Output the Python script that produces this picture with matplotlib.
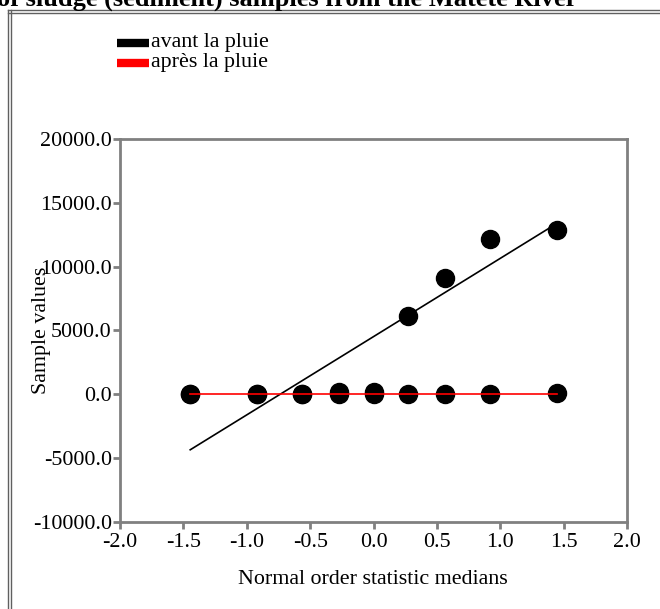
import numpy as np
import matplotlib
matplotlib.use("Agg")
import matplotlib.pyplot as plt
from matplotlib.lines import Line2D
from matplotlib.ticker import FormatStrFormatter

plt.rcParams['font.family'] = ['Liberation Serif', 'DejaVu Serif']

# normal order statistic medians for n = 9
x_medians = [-1.446, -0.917, -0.564, -0.271, 0.0, 0.271, 0.564, 0.917, 1.446]

# sample values (sorted)
avant = [0, 0, 0, 150, 150, 6130, 9150, 12150, 12900]
apres = [10, 15, 20, 30, 40, 45, 50, 60, 80]

# reference lines: (slope, intercept)
avant_fit = (6130, 4520)
apres_fit = (0, 40)

labels = ['avant la pluie', 'après la pluie']
colors = ['black', 'red']
FS = 15.8

fig = plt.figure(figsize=(6.6, 6.09), dpi=100)
ax = fig.add_axes([120/660, 1 - 522/609, 507/660, 383/609])

x = np.array(x_medians)
for vals in [avant, apres]:
    ax.plot(x, vals, 'o', color='black', markersize=13, zorder=2)
for (slope, icpt), col in zip([avant_fit, apres_fit], colors):
    ax.plot(x, slope * x + icpt, color=col, linewidth=1.2, zorder=3)

ax.set_xlim(-2.0, 2.0)
ax.set_ylim(-10000, 20000)
ax.set_xticks(np.arange(-2.0, 2.01, 0.5))
ax.set_yticks(np.arange(-10000, 20001, 5000))
ax.xaxis.set_major_formatter(FormatStrFormatter('%.1f'))
ax.yaxis.set_major_formatter(FormatStrFormatter('%.1f'))
for s in ax.spines.values():
    s.set_color('#808080')
    s.set_linewidth(2)
ax.tick_params(direction='out', length=5, width=2, color='#808080',
               labelsize=FS, pad=1)
ax.tick_params(axis='x', pad=3)

fig.text(373/660, 1 - 580/609, 'Normal order statistic medians', fontsize=FS,
         ha='center', va='center')
fig.text(42/660, 1 - 330/609, 'Sample values', rotation=90, fontsize=FS,
         ha='center', va='center')

# legend
for i, (lab, col) in enumerate(zip(labels, colors)):
    yy = 1 - (43 + 20 * i) / 609
    fig.add_artist(Line2D([117/660, 149/660], [yy, yy], color=col, linewidth=6,
                          solid_capstyle='butt'))
    fig.text(151/660, yy, lab, fontsize=FS, ha='left', va='center')

# cut-off title and outer frame
fig.text(-3/660, 1 - 6/609, 'of sludge (sediment) samples from the Matete River',
         fontsize=19, fontweight='bold', ha='left', va='baseline')
for xx in [8/660, 11/660]:
    fig.add_artist(Line2D([xx, xx], [0, 1 - 10/609], color='#606060', linewidth=1))
for yy in [1 - 10/609, 1 - 13/609]:
    fig.add_artist(Line2D([8/660, 1], [yy, yy], color='#606060', linewidth=1))

fig.savefig('out.png', dpi=100)
